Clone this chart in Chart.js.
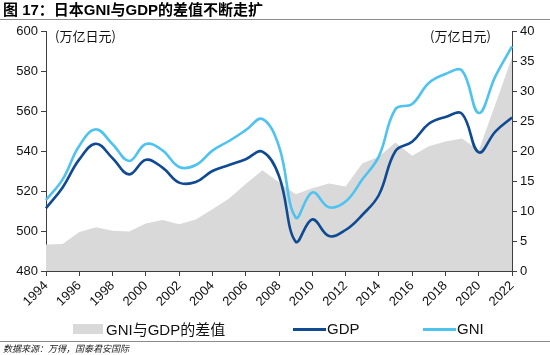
<!DOCTYPE html>
<html>
<head>
<meta charset="utf-8">
<script src="https://cdn.jsdelivr.net/npm/chart.js@4/dist/chart.umd.min.js"></script>
<style>
  html, body { margin: 0; padding: 0; background: #fff; }
  #wrap { position: relative; width: 550px; height: 355px; overflow: hidden; font-family: "Liberation Sans", Arial, "Noto Sans CJK SC", sans-serif; }
  #c { position: absolute; left: 0; top: 0; }
  .abs { position: absolute; white-space: nowrap; }
  #title { left: 3px; top: 1px; font-size: 15px; font-weight: bold; color: #000; line-height: 17px; }
  #rule1 { left: 0; top: 19px; width: 550px; height: 1px; background: #8c8c8c; }
  #rule2 { left: 0; top: 341px; width: 550px; height: 1px; background: #8c8c8c; }
  #src { left: 3px; top: 343px; font-size: 9px; font-style: italic; color: #222; line-height: 11px; font-family: "Noto Sans CJK SC", sans-serif; }
  .unit { font-size: 13px; color: #111; top: 28px; line-height: 16px; font-family: "Noto Sans CJK SC", sans-serif; }
  .leg { font-size: 15px; color: #111; top: 320px; line-height: 18px; }
  .cjk { font-family: "Noto Sans CJK SC", sans-serif; }
</style>
</head>
<body>
<div id="wrap">
  <canvas id="c" width="550" height="355"></canvas>
  <div id="title" class="abs">图 17：日本GNI与GDP的差值不断走扩</div>
  <div id="rule1" class="abs"></div>
  <div class="abs unit" style="left:55px;">(万亿日元)</div>
  <div class="abs unit" style="left:430px;">(万亿日元)</div>
  <div class="abs" style="left:73px; top:324px; width:30px; height:10px; background:#d9d9d9;"></div>
  <div class="abs leg" style="left:106px;">GNI<span class="cjk">与</span>GDP<span class="cjk">的差值</span></div>
  <div class="abs" style="left:293px; top:328px; width:33px; height:3px; background:#0f4a93;"></div>
  <div class="abs leg" style="left:327px;">GDP</div>
  <div class="abs" style="left:423px; top:328px; width:33px; height:3px; background:#4fc3f0;"></div>
  <div class="abs leg" style="left:457px;">GNI</div>
  <div id="rule2" class="abs"></div>
  <div id="src" class="abs">数据来源：万得，国泰君安国际</div>
</div>
<script>
const years = ['1994','1995','1996','1997','1998','1999','2000','2001','2002','2003','2004','2005','2006','2007','2008','2009','2010','2011','2012','2013','2014','2015','2016','2017','2018','2019','2020','2021','2022'];
const gdp = [511.4, 521.8, 535.8, 543.6, 536.4, 528.3, 535.6, 531.7, 524.2, 524.5, 530.0, 533.0, 535.9, 539.7, 527.5, 494.7, 505.8, 497.5, 500.5, 508.0, 518.0, 540.0, 544.6, 553.6, 557.0, 558.6, 539.3, 549.7, 556.7];
const gni = [515.5, 525.8, 542.6, 550.8, 543.4, 535.0, 543.5, 540.3, 532.0, 533.0, 540.2, 545.0, 550.4, 556.0, 542.3, 506.8, 519.3, 511.9, 514.7, 525.7, 537.3, 561.0, 563.5, 574.0, 578.5, 580.2, 559.0, 577.3, 592.3];
const gap = [4.4, 4.5, 6.5, 7.3, 6.7, 6.6, 7.9, 8.5, 7.8, 8.6, 10.3, 12.1, 14.5, 16.8, 14.8, 12.8, 13.8, 14.6, 14.1, 17.9, 19.1, 21.4, 19.2, 20.8, 21.6, 22.1, 20.1, 27.8, 35.6];
const leftRange = [480, 600, 20];
const rightRange = [0, 40, 5];

const axisColor = '#3f3f3f';
const tickFont = { family: '"Liberation Sans", Arial, sans-serif', size: 13 };

new Chart(document.getElementById('c'), {
  type: 'line',
  data: {
    labels: years,
    datasets: [
      { label: 'GDP', data: gdp, yAxisID: 'y', borderColor: '#0f4a93', borderWidth: 2.6, pointRadius: 0, tension: 0.4, fill: false, order: 2 },
      { label: 'GNI', data: gni, yAxisID: 'y', borderColor: '#4fc3f0', borderWidth: 2.6, pointRadius: 0, tension: 0.4, fill: false, order: 1 },
      { label: 'GNI与GDP的差值', data: gap, yAxisID: 'y1', borderColor: 'rgba(0,0,0,0)', borderWidth: 0, backgroundColor: '#d9d9d9', pointRadius: 0, tension: 0, fill: 'start', order: 3 }
    ]
  },
  options: {
    responsive: false,
    devicePixelRatio: 1,
    animation: false,
    layout: { padding: { top: 31, bottom: 0, left: 0, right: 0 } },
    plugins: { legend: { display: false }, tooltip: { enabled: false } },
    scales: {
      x: {
        offset: false,
        border: { display: true, color: axisColor, width: 1 },
        grid: {
          display: true, drawOnChartArea: false, drawTicks: true, tickLength: 5,
          tickColor: (ctx) => (ctx.index % 2 === 0 ? axisColor : 'rgba(0,0,0,0)')
        },
        ticks: {
          autoSkip: false, maxRotation: 45, minRotation: 45, padding: 2,
          color: '#111', font: tickFont,
          callback: function (v, i) { return i % 2 === 0 ? years[i] : ''; }
        },
        afterFit: (s) => { s.height = 84; }
      },
      y: {
        position: 'left', min: leftRange[0], max: leftRange[1],
        border: { display: true, color: axisColor, width: 1 },
        grid: { display: true, drawOnChartArea: false, drawTicks: true, tickLength: 5, tickColor: axisColor },
        ticks: { stepSize: leftRange[2], padding: 3, color: '#111', font: tickFont },
        afterFit: (s) => { s.width = 46; }
      },
      y1: {
        position: 'right', min: rightRange[0], max: rightRange[1],
        border: { display: true, color: axisColor, width: 1 },
        grid: { display: true, drawOnChartArea: false, drawTicks: true, tickLength: 5, tickColor: axisColor },
        ticks: { stepSize: rightRange[2], padding: 3, color: '#111', font: tickFont },
        afterFit: (s) => { s.width = 38; }
      }
    }
  }
});
</script>
</body>
</html>
